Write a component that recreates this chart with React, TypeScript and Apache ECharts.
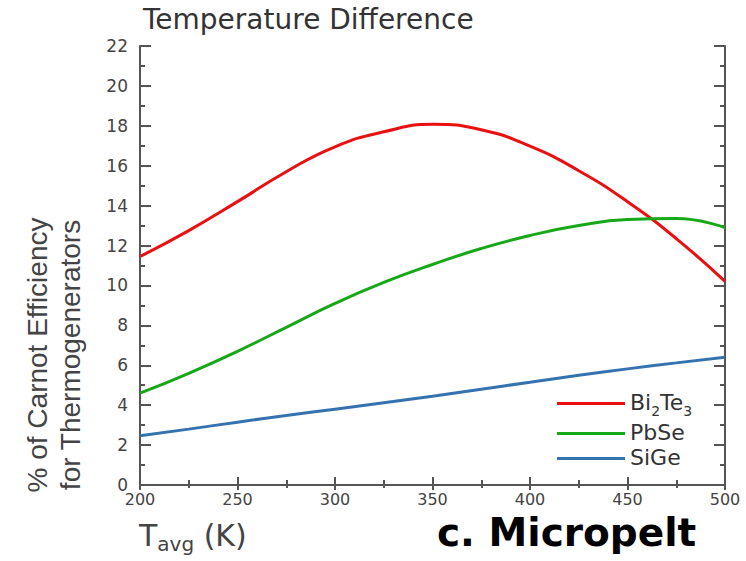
import React, { useEffect, useRef } from "react";
import * as echarts from "echarts";

const temps = [200, 225, 250, 275, 300, 325, 350, 375, 400, 425, 450, 475, 500];
const bi2te3 = [11.45, 12.75, 14.2, 15.7, 16.95, 17.7, 18.08, 17.8, 16.98, 15.75, 14.2, 12.35, 10.2];
const pbse = [4.6, 5.6, 6.7, 7.9, 9.1, 10.15, 11.05, 11.85, 12.5, 13.0, 13.3, 13.35, 12.9];
const sige = [2.47, 2.8, 3.15, 3.48, 3.8, 4.12, 4.45, 4.8, 5.15, 5.5, 5.82, 6.12, 6.4];
const seriesNames = ["Bi2Te3", "PbSe", "SiGe"];
const seriesColors = ["#e81010", "#17a817", "#3572b0"];

const FONT = "DejaVu Sans";
const AX = "#555555";

export default function App() {
  const ref = useRef<HTMLDivElement>(null);
  useEffect(() => {
    if (!ref.current) return;
    const chart = echarts.init(ref.current, undefined, { renderer: "svg" });
    const values = [bi2te3, pbse, sige];
    const axisCommon = {
      type: "value" as const,
      axisLine: { show: true, lineStyle: { color: AX, width: 2 } },
      splitLine: { show: false },
    };
    chart.setOption({
      animation: false,
      title: {
        text: "Temperature Difference",
        left: 138,
        top: 0,
        textStyle: { fontFamily: FONT, fontSize: 28, fontWeight: "normal", color: "#333" },
      },
      grid: { left: 140, right: 21, top: 46, bottom: 76 },
      legend: {
        orient: "vertical",
        left: 552,
        top: 386,
        icon: "rect",
        itemWidth: 68,
        itemHeight: 3,
        itemGap: 3,
        data: seriesNames,
        formatter: (name: string) =>
          name === "Bi2Te3" ? "{n|Bi}{s|2}{n|Te}{s|3}" : "{n|" + name + "}",
        textStyle: {
          fontFamily: FONT,
          fontSize: 22,
          color: "#333",
          rich: {
            n: { fontFamily: FONT, fontSize: 22, color: "#333", lineHeight: 25, verticalAlign: "top" },
            s: { fontFamily: FONT, fontSize: 14, color: "#333", lineHeight: 15, padding: [13, 0, 0, 0], verticalAlign: "top" },
          },
        },
      },
      xAxis: [
        {
          ...axisCommon,
          position: "bottom",
          min: 200,
          max: 500,
          interval: 50,
          axisTick: { show: true, inside: true, length: 8, lineStyle: { color: AX, width: 2 } },
          minorTick: { show: true, splitNumber: 2, length: 5, lineStyle: { color: AX, width: 2 } },
          axisLabel: { fontFamily: FONT, fontSize: 16, color: "#444", margin: 6 },
        },
        {
          ...axisCommon,
          position: "top",
          min: 200,
          max: 500,
          interval: 50,
          axisTick: { show: true, inside: true, length: 5, lineStyle: { color: AX, width: 2 } },
          minorTick: { show: true, splitNumber: 2, length: 3, lineStyle: { color: AX, width: 2 } },
          axisLabel: { show: false },
        },
      ],
      yAxis: [
        {
          ...axisCommon,
          position: "left",
          min: 0,
          max: 22,
          interval: 2,
          axisTick: { show: true, inside: true, length: 11, lineStyle: { color: AX, width: 2 } },
          minorTick: { show: true, splitNumber: 2, length: 5, lineStyle: { color: AX, width: 2 } },
          axisLabel: { fontFamily: FONT, fontSize: 17, color: "#444", margin: 12 },
        },
        {
          ...axisCommon,
          position: "right",
          min: 0,
          max: 22,
          interval: 2,
          axisTick: { show: true, inside: true, length: 11, lineStyle: { color: AX, width: 2 } },
          minorTick: { show: true, splitNumber: 2, length: 5, lineStyle: { color: AX, width: 2 } },
          axisLabel: { show: false },
        },
      ],
      series: seriesNames.map((name, i) => ({
        name,
        type: "line",
        xAxisIndex: 0,
        yAxisIndex: 0,
        smooth: 0.5,
        showSymbol: false,
        color: seriesColors[i],
        lineStyle: { width: 3, color: seriesColors[i] },
        data: temps.map((t, j) => [t, values[i][j]]),
      })),
      graphic: [
        {
          type: "text",
          x: 37,
          y: 355,
          rotation: Math.PI / 2,
          style: {
            text: "% of Carnot Efficiency",
            fontFamily: "Liberation Sans",
            fontSize: 28,
            fill: "#444",
            align: "center",
            verticalAlign: "middle",
          },
        },
        {
          type: "text",
          x: 70,
          y: 355,
          rotation: Math.PI / 2,
          style: {
            text: "for Thermogenerators",
            fontFamily: "Liberation Sans",
            fontSize: 28,
            fill: "#444",
            align: "center",
            verticalAlign: "middle",
          },
        },
        {
          type: "text",
          x: 139,
          y: 537,
          style: {
            text: "{t|T}{s|avg}{t| (K)}",
            verticalAlign: "middle",
            rich: {
              t: { fontFamily: FONT, fontSize: 30, fill: "#444", lineHeight: 34, verticalAlign: "top" },
              s: { fontFamily: FONT, fontSize: 20, fill: "#444", lineHeight: 20, padding: [14, 0, 0, 0], verticalAlign: "top" },
            },
          },
        },
        {
          type: "text",
          x: 437,
          y: 532,
          style: {
            text: "c. Micropelt",
            fontFamily: "DejaVu Sans",
            fontWeight: "bold",
            fontSize: 39,
            fill: "#000",
            verticalAlign: "middle",
          },
        },
      ],
    });
    return () => chart.dispose();
  }, []);
  return <div ref={ref} style={{ width: 746, height: 561, position: "absolute", left: 0, top: 0 }} />;
}
